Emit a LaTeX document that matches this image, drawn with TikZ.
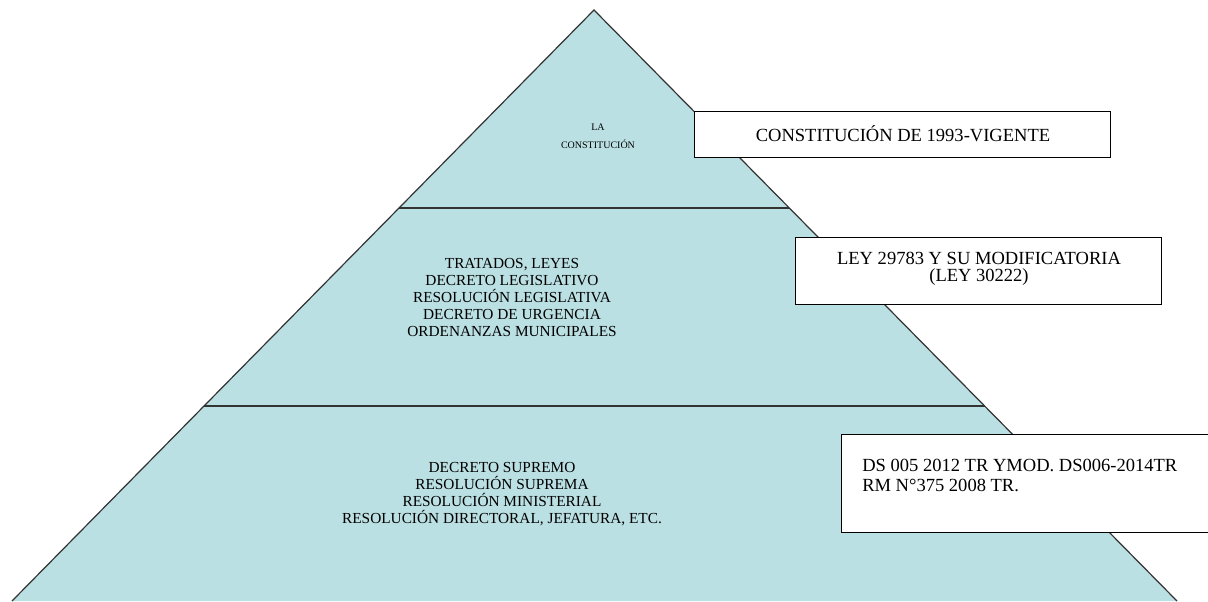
\documentclass[tikz,border=0pt]{standalone}
\usepackage{fontspec}
\setmainfont{Liberation Serif}
\definecolor{pyr}{RGB}{187,224,227}
\tikzset{
  pxs/.style={x=0.75pt,y=-0.75pt},
  lvl/.style={align=center,font=\fontsize{11.5}{12.75}\selectfont,inner sep=0pt},
  infobox/.style={draw=black,line width=1.1pt,fill=white,inner sep=0pt,anchor=north west},
  infotext/.style={font=\fontsize{13.9}{12.75}\selectfont,inner sep=0pt},
  sep/.style={draw=black!80,line width=1.4pt}
}
\begin{document}
\begin{tikzpicture}[pxs]
\useasboundingbox (0,0) rectangle (1208,601);
% pyramid
\coordinate (apex) at (594,10);
\coordinate (bl) at (12,601);
\coordinate (br) at (1177,601);
\fill[pyr] (apex) -- (bl) -- (br) -- cycle;
\draw[black!80,line width=0.9pt] (bl) -- (apex) -- (br);
% separators
\coordinate (s1l) at (399,208);
\coordinate (s1r) at (789,208);
\coordinate (s2l) at (204,406);
\coordinate (s2r) at (985,406);
\draw[sep] (s1l) -- (s1r);
\draw[sep] (s2l) -- (s2r);
% level texts
\node[align=center,inner sep=0pt,font=\fontsize{7.5}{13.5}\selectfont] (t1) at (598,136) {LA\\CONSTITUCIÓN};
\node[lvl] (t2) at (512,297) {TRATADOS, LEYES\\DECRETO LEGISLATIVO\\RESOLUCIÓN LEGISLATIVA\\DECRETO DE URGENCIA\\ORDENANZAS MUNICIPALES};
\node[lvl] (t3) at (502,494) {DECRETO SUPREMO\\RESOLUCIÓN SUPREMA\\RESOLUCIÓN MINISTERIAL\\RESOLUCIÓN DIRECTORAL, JEFATURA, ETC.};
% boxes
\node[infobox,minimum width=416*0.75pt,minimum height=46*0.75pt] (b1) at (694,111) {};
\node[infotext] (b1t) at (903,134) {CONSTITUCIÓN DE 1993-VIGENTE};
\node[infobox,minimum width=366*0.75pt,minimum height=67*0.75pt] (b2) at (795,237) {};
\node[infotext,align=center] (b2t) at (979,269) {LEY 29783 Y SU MODIFICATORIA\\(LEY 30222)};
\node[infobox,minimum width=368*0.75pt,minimum height=98*0.75pt] (b3) at (841,434) {};
\node[infotext,align=left,anchor=north west,font=\fontsize{13.9}{15}\selectfont] (b3t) at (862,459) {DS 005 2012 TR YMOD. DS006-2014TR\\RM N°375 2008 TR.};
\end{tikzpicture}
\end{document}
